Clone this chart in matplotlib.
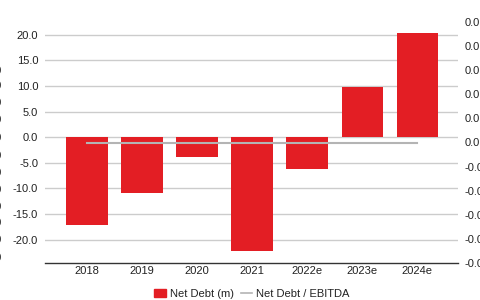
import numpy as np
import matplotlib
matplotlib.use("Agg")
import matplotlib.pyplot as plt
from matplotlib.lines import Line2D
from matplotlib.patches import Patch

plt.rcParams['font.family'] = ['Liberation Sans', 'DejaVu Sans']

years = ["2018", "2019", "2020", "2021", "2022e", "2023e", "2024e"]
net_debt = [-17.2, -10.9, -3.9, -22.3, -6.2, 9.8, 20.3]
net_debt_ebitda = [0.0, 0.0, 0.0, 0.0, 0.0, 0.0, 0.0]
left_ticks = [-20, -15, -10, -5, 0, 5, 10, 15, 20]
right_ticks = [-0.05, -0.04, -0.03, -0.02, -0.01, 0.0, 0.01, 0.02, 0.03, 0.04, 0.05]

red = "#e31e24"
grey = "#b4b4b4"
txt = "#222222"


def one_decimal(v):
    # the source chart truncates these to one decimal
    return ("-" if v < 0 else "") + "%.1f" % abs(np.trunc(v * 10) / 10)


fig = plt.figure(figsize=(4.8, 3.0), dpi=100)
ax = fig.add_axes([0.094, 0.123, 0.86, 0.804])
ax2 = ax.twinx()

x = np.arange(len(years))
ax.bar(x, net_debt, width=0.75, color=red, zorder=3)
ax2.plot(x, net_debt_ebitda, color=grey, linewidth=1.5, zorder=4)

ax.set_xlim(-0.76, 6.74)
ax.set_ylim(-24.6, 22.5)
ax.set_yticks(left_ticks)
ax.set_yticklabels(["%.1f" % v for v in left_ticks])
ax.yaxis.grid(True, color="#cccccc", linewidth=1.0, zorder=0)
ax.set_axisbelow(True)
ax.set_xticks(x)
ax.set_xticklabels(years)

ax2.set_ylim(-0.05, 0.05)
ax2.set_yticks(right_ticks)
ax2.set_yticklabels([one_decimal(v) for v in right_ticks])

for a in [ax, ax2]:
    for s in ["top", "left", "right", "bottom"]:
        a.spines[s].set_visible(False)
    a.tick_params(length=0, labelsize=8, colors=txt)
ax.tick_params(axis="y", pad=5)
ax.tick_params(axis="x", pad=2)
ax2.tick_params(axis="y", pad=5)
ax.spines["bottom"].set_visible(True)
ax.spines["bottom"].set_color("#333333")
ax.spines["bottom"].set_linewidth(1.0)

# labels of a neighbouring axis, cut off at the left edge
outer_y = [71, 86, 103, 120, 138, 156, 173, 190, 207, 223, 240, 258]
for yy in outer_y:
    fig.text(0.004, 1 - yy / 300, "0.0", ha="right", va="center", fontsize=8, color=txt)

handles = [Patch(facecolor=red, edgecolor=red),
           Line2D([0], [0], color=grey, linewidth=1.2)]
fig.legend(handles, ["Net Debt (m)", "Net Debt / EBITDA"], loc="lower center",
           bbox_to_anchor=(0.525, -0.03), ncol=2, frameon=False, fontsize=8,
           handlelength=1.0, handleheight=0.8, handletextpad=0.4, columnspacing=0.6,
           labelcolor=txt)

fig.savefig("out.png", dpi=100)
